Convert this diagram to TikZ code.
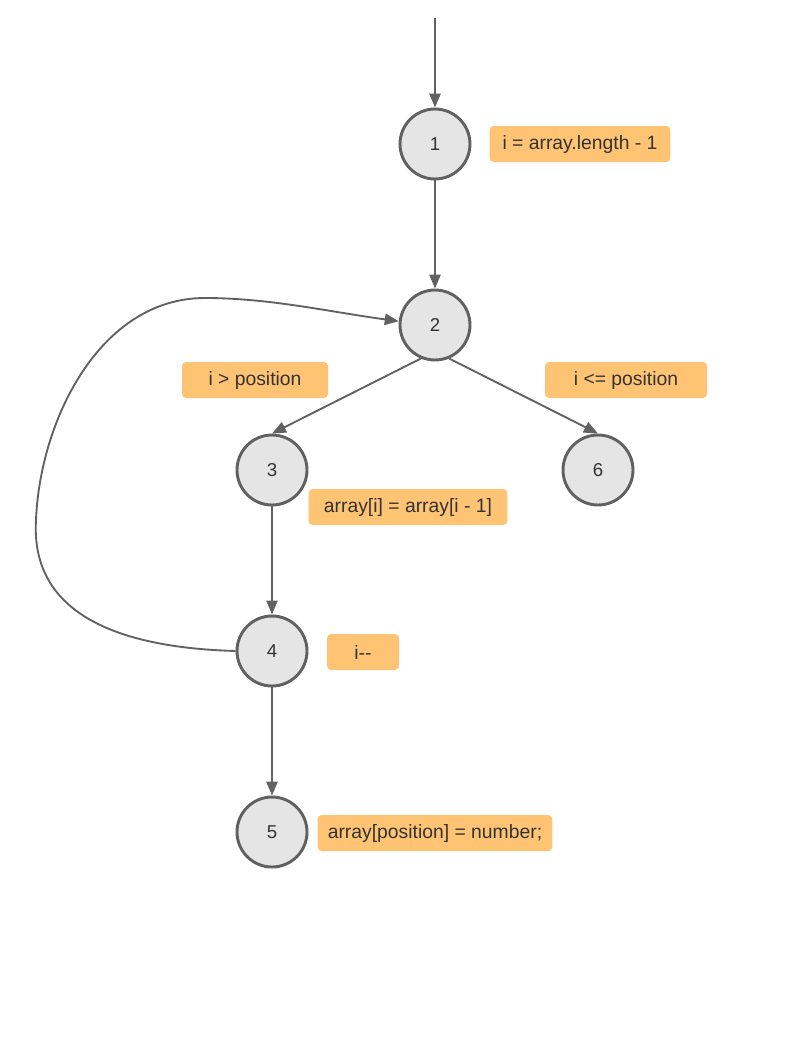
\documentclass[tikz,border=0pt]{standalone}
\usepackage{fontspec}
\setmainfont{Liberation Sans}
\usetikzlibrary{arrows.meta, positioning}
\definecolor{linegray}{HTML}{616161}
\definecolor{nodefill}{HTML}{E5E5E5}
\definecolor{noteorange}{HTML}{FFC374}
\definecolor{textgray}{HTML}{333333}

\begin{document}
\begin{tikzpicture}[x=0.75pt, y=-0.75pt,
    state/.style={circle, draw=linegray, line width=2.2pt, fill=nodefill,
        minimum size=52.5pt, inner sep=0pt, text=textgray,
        font=\fontsize{14}{16}\selectfont},
    note/.style={fill=noteorange, rounded corners=3pt, minimum height=27pt,
        inner sep=0pt, text=textgray, font=\fontsize{14.5}{16}\selectfont},
    flow/.style={draw=linegray, line width=1.4pt,
        -{Triangle[length=10.5pt, width=8.5pt]}}]
    \useasboundingbox (0, 0) rectangle (800, 1042);

    % states
    \node[state] (n1) at (435, 144) {1};
    \node[state] (n2) at (435, 325) {2};
    \node[state] (n3) at (272, 470) {3};
    \node[state] (n6) at (598, 470) {6};
    \node[state] (n4) at (272, 651) {4};
    \node[state] (n5) at (272, 832) {5};
    \coordinate (entry) at (435, 18);

    % notes
    \node[note, minimum width=135.5pt] (init) at (580, 144) {i = array.length - 1};
    \node[note, minimum width=109.5pt] (gt) at (255, 380) {i > position};
    \node[note, minimum width=121.5pt] (le) at (626, 380) {i <= position};
    \node[note, minimum width=149pt] (shift) at (408, 507) {array[i] = array[i - 1]};
    \node[note, minimum width=54pt] (dec) at (363, 652) {i-{}-};
    \node[note, minimum width=176pt] (store) at (435, 833) {array[position] = number;};

    % edges
    \draw[flow] (entry) -- (n1.north);
    \draw[flow] (n1) -- (n2);
    \draw[flow] (n2.247) -- (n3.north);
    \draw[flow] (n2.293) -- (n6.north);
    \draw[flow] (n3) -- (n4);
    \draw[flow] (n4) -- (n5);
    \draw[flow] (n4.west) .. controls (130, 648) and (30, 620) .. (36, 520)
        .. controls (40, 420) and (100, 298) .. (205, 298)
        .. controls (270, 298) and (330, 312) .. (n2.174);
\end{tikzpicture}
\end{document}
